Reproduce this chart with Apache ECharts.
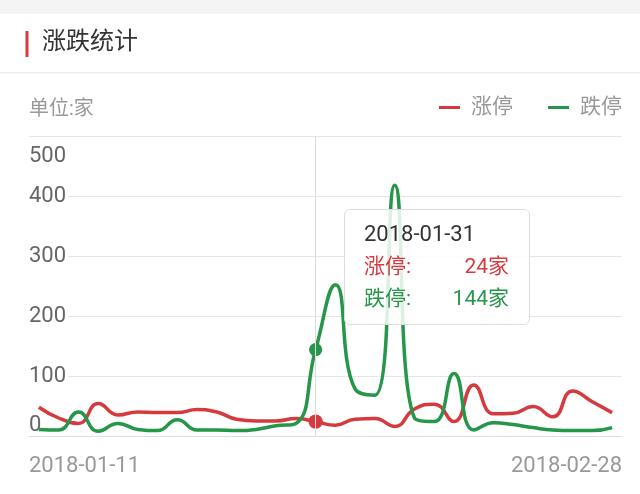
<!DOCTYPE html>
<html>
<head>
<meta charset="utf-8">
<script src="https://cdn.jsdelivr.net/npm/echarts@6.0.0/dist/echarts.min.js"></script>
<style>
html,body{margin:0;padding:0;background:#fff;}
#chart{width:640px;height:494px;}
</style>
</head>
<body>
<div id="chart"></div>
<script>
// ---- data ----
const titleText = '涨跌统计';
const unitText = '单位:家';
const seriesNames = ['涨停', '跌停'];
const dates = [
  '2018-01-11','2018-01-12','2018-01-15','2018-01-16','2018-01-17','2018-01-18','2018-01-19',
  '2018-01-22','2018-01-23','2018-01-24','2018-01-25','2018-01-26','2018-01-29','2018-01-30','2018-01-31',
  '2018-02-01','2018-02-02','2018-02-05','2018-02-06','2018-02-07','2018-02-08','2018-02-09',
  '2018-02-12','2018-02-13','2018-02-14','2018-02-22','2018-02-23','2018-02-26','2018-02-27','2018-02-28'
];
const upCounts   = [48,30,21,54,35,40,39,39,44,40,28,25,25,29,24,18,28,29,16,45,53,24,85,37,38,49,32,75,57,39];
const downCounts = [11,10,40,8,21,11,9,27,10,10,9,11,17,21,144,252,78,68,418,30,24,104,10,22,19,14,10,9,9,14];
const edgeLabels = [dates[0], dates[dates.length - 1]];
const yMin = 0, yMax = 500, yStep = 100;
const tipIndex = 14;

const RED = '#d6393e';
const GREEN = '#26964a';
const FONT = 'Roboto, "Noto Sans CJK SC", sans-serif';

const chart = echarts.init(document.getElementById('chart'));
const option = {
  animation: false,
  backgroundColor: '#fff',
  textStyle: { fontFamily: FONT },
  graphic: [
    { type: 'rect', shape: { x: 0, y: 0, width: 640, height: 14 }, style: { fill: '#f4f4f4' }, silent: true },
    { type: 'rect', shape: { x: 0, y: 72, width: 640, height: 1.5 }, style: { fill: '#eeeeee' }, silent: true },
    { type: 'rect', shape: { x: 25.5, y: 31, width: 3, height: 26 }, style: { fill: RED }, silent: true }
  ],
  title: {
    text: titleText,
    left: 42, top: 31, padding: 0,
    textStyle: { fontSize: 24, color: '#333', fontWeight: 'normal', fontFamily: FONT }
  },
  legend: {
    data: seriesNames,
    right: 18, top: 97, padding: 0,
    icon: 'rect', itemWidth: 21, itemHeight: 3, itemGap: 35,
    textStyle: { fontSize: 21, color: '#999', padding: [0, 0, 8, 6], fontFamily: FONT }
  },
  grid: { left: 29, right: 18, top: 136, bottom: 58, containLabel: false },
  tooltip: {
    trigger: 'axis',
    triggerOn: 'none',
    alwaysShowContent: true,
    transitionDuration: 0,
    showDelay: 0,
    axisPointer: { type: 'line', lineStyle: { color: '#dddddd', width: 1, type: 'solid' }, label: { show: false } },
    position: function () { return [344, 209]; },
    backgroundColor: 'rgba(255,255,255,0.85)',
    borderColor: '#dddddd',
    borderWidth: 1,
    borderRadius: 6,
    padding: [8, 20, 10, 19],
    extraCssText: 'box-shadow:none;width:145px;',
    formatter: function (params) {
      let html = '<div style="font-family:' + FONT.replace(/"/g, "'") + ';">';
      html += '<div style="font-size:22px;color:#333;height:32px;line-height:32px;">' + params[0].axisValue + '</div>';
      params.forEach(function (p) {
        html += '<div style="display:flex;justify-content:space-between;font-size:21px;height:32px;line-height:32px;color:' + p.color + ';">' +
          '<span>' + p.seriesName + ':</span><span>' + p.value + '家</span></div>';
      });
      return html + '</div>';
    }
  },
  xAxis: [
    {
      type: 'category', data: dates, boundaryGap: true, position: 'bottom',
      axisLine: { show: true, lineStyle: { color: '#dddddd', width: 1 } },
      axisTick: { show: false },
      axisLabel: { show: false },
      splitLine: { show: false }
    },
    {
      type: 'category', data: edgeLabels, boundaryGap: false, position: 'bottom',
      axisPointer: { show: false },
      axisLine: { show: false },
      axisTick: { show: false },
      splitLine: { show: false },
      axisLabel: {
        show: true, interval: 0, margin: 19,
        fontSize: 22, color: '#999', fontFamily: FONT,
        alignMinLabel: 'left', alignMaxLabel: 'right'
      }
    }
  ],
  yAxis: {
    type: 'value', min: yMin, max: yMax, interval: yStep,
    name: unitText, nameLocation: 'end', nameGap: 26,
    nameTextStyle: { fontSize: 20, color: '#999', align: 'left', verticalAlign: 'middle', fontFamily: FONT },
    axisLine: { show: false },
    axisTick: { show: false },
    splitLine: { show: true, lineStyle: { color: '#e6e6e6', width: 1 } },
    axisLabel: {
      inside: true, margin: 0,
      fontSize: 22, color: '#666', fontFamily: FONT,
      formatter: function (v) {
        if (v === yMin) return '{b|' + v + '}';
        if (v === yMax) return '{t|' + v + '}';
        return '{m|' + v + '}';
      },
      rich: {
        t: { fontSize: 22, color: '#666', fontFamily: FONT, padding: [40, 0, 0, 0] },
        b: { fontSize: 22, color: '#666', fontFamily: FONT, padding: [0, 0, 22, 0] },
        m: { fontSize: 22, color: '#666', fontFamily: FONT, backgroundColor: '#fff', padding: [0, 2, 0, 0] }
      }
    }
  },
  series: [
    {
      name: seriesNames[0], type: 'line', data: upCounts, smooth: true,
      xAxisIndex: 0,
      showSymbol: true, showAllSymbol: true, symbol: 'circle',
      symbolSize: function (v, p) { return p.dataIndex === tipIndex ? 13 : 0; },
      lineStyle: { color: RED, width: 3.5 },
      itemStyle: { color: RED },
      emphasis: { disabled: true }
    },
    {
      name: seriesNames[1], type: 'line', data: downCounts, smooth: true,
      xAxisIndex: 0,
      showSymbol: true, showAllSymbol: true, symbol: 'circle',
      symbolSize: function (v, p) { return p.dataIndex === tipIndex ? 12 : 0; },
      lineStyle: { color: GREEN, width: 3.5 },
      itemStyle: { color: GREEN },
      emphasis: { disabled: true }
    }
  ]
};
chart.setOption(option);
chart.dispatchAction({ type: 'showTip', seriesIndex: 0, dataIndex: tipIndex });
</script>
</body>
</html>
